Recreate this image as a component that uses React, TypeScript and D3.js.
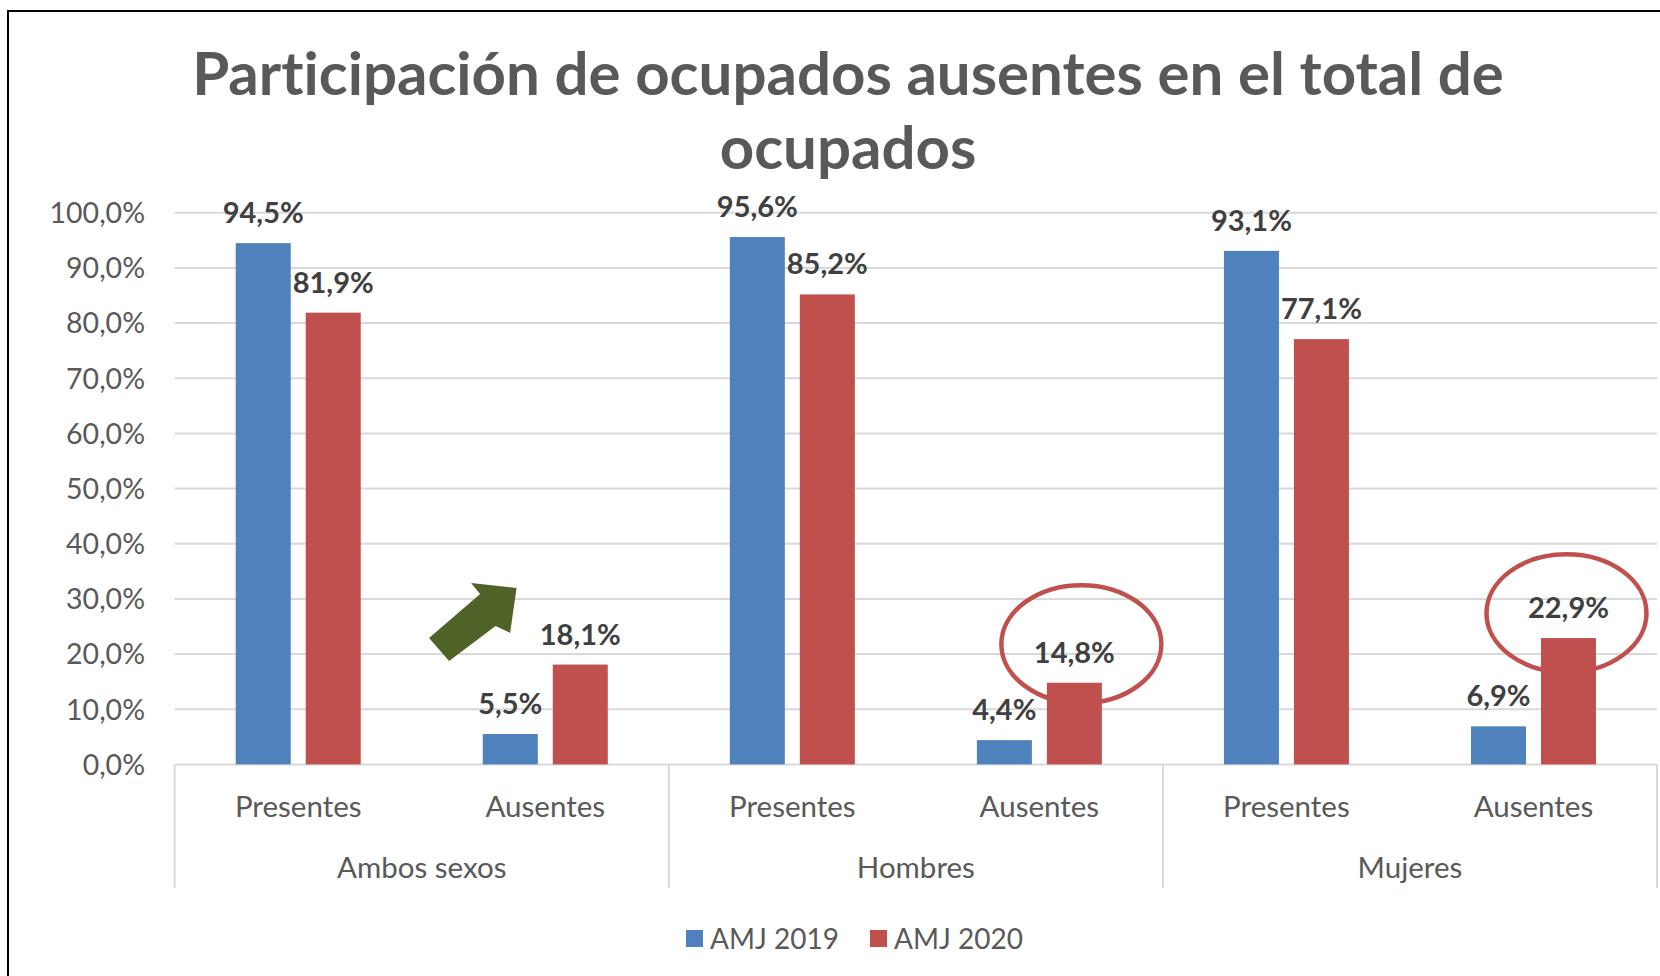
import React from 'react';
import * as d3 from 'd3';

const GROUPS = ['Ambos sexos', 'Hombres', 'Mujeres'];
const CATEGORIES = ['Presentes', 'Ausentes'];
const SERIES = ['AMJ 2019', 'AMJ 2020'];
const VALUES_2019 = [94.5, 5.5, 95.6, 4.4, 93.1, 6.9];
const VALUES_2020 = [81.9, 18.1, 85.2, 14.8, 77.1, 22.9];
const Y_TICKS = [0, 10, 20, 30, 40, 50, 60, 70, 80, 90, 100];
const COLORS = ['#4F81BD', '#C0504D'];
const TITLE_LINES = ['Participación de ocupados ausentes en el total de', 'ocupados'];
// highlighted (circled) bars: group index, category index, ellipse centre in value units, x offset px
const HIGHLIGHTS = [
  { g: 1, c: 1, cy: 21.8, dx: 7 },
  { g: 2, c: 1, cy: 27.4, dx: -2 },
];

const W = 1660;
const H = 976;
const FONT = 'Lato, "Open Sans", sans-serif';

const fmt = (v: number) => v.toFixed(1).replace('.', ',') + '%';

export default function App() {
  const left = 174.7;
  const right = 1657;
  const top = 212.8;
  const bottom = 764.4;

  const y = d3.scaleLinear().domain([0, 100]).range([bottom, top]);
  const keys = GROUPS.flatMap((g) => CATEGORIES.map((c) => g + '|' + c));
  const x0 = d3.scaleBand().domain(keys).range([left, right]).padding(0);
  const bw = x0.bandwidth();
  const x1 = d3
    .scaleBand()
    .domain(SERIES)
    .range([bw / 2 - 62.5, bw / 2 + 62.5])
    .paddingInner(0.214)
    .paddingOuter(0);
  const xg = d3.scaleBand().domain(GROUPS).range([left, right]).padding(0);

  const seriesVals = [VALUES_2019, VALUES_2020];

  const bars: any[] = [];
  keys.forEach((k, i) => {
    SERIES.forEach((s, si) => {
      const v = seriesVals[si][i];
      bars.push({ k, s, si, v, x: (x0(k) as number) + (x1(s) as number), w: x1.bandwidth() });
    });
  });

  // arrow annotation, anchored near the Ambos sexos / Ausentes bars
  const ak = GROUPS[0] + '|' + CATEGORIES[1];
  const tipX = (x0(ak) as number) + bw / 2 - 28.7;
  const tipY = y(32);
  const arrowRel = [
    [0, 0],
    [-6.5, 45],
    [-21, 38],
    [-67.5, 73],
    [-87.5, 50],
    [-36.5, 6],
    [-45.5, -5],
  ];
  const arrowPts = arrowRel.map(([dx, dy]) => `${tipX + dx},${tipY + dy}`).join(' ');

  return (
    <svg
      width={W}
      height={H}
      style={{
        position: 'absolute',
        left: 0,
        top: 0,
        background: '#fff',
        fontVariantLigatures: 'none',
        fontFeatureSettings: '"liga" 0, "clig" 0',
      }}
      fontFamily={FONT}
    >
      <rect x={0} y={0} width={W} height={H} fill="#fff" />
      <rect x={8} y={11} width={W + 50} height={H + 50} fill="#fff" stroke="#000" strokeWidth={2} />

      {/* title */}
      {TITLE_LINES.map((t, i) => (
        <text
          key={i}
          x={848}
          y={95 + i * 74}
          textAnchor="middle"
          fontSize={60}
          fontWeight={700}
          fill="#595959"
        >
          {t}
        </text>
      ))}

      {/* gridlines */}
      {Y_TICKS.map((t) => (
        <line key={t} x1={left} x2={right} y1={y(t)} y2={y(t)} stroke="#D9D9D9" strokeWidth={2} />
      ))}
      {/* y labels */}
      {Y_TICKS.map((t) => (
        <text
          key={'l' + t}
          x={145}
          y={y(t)}
          dy="0.36em"
          textAnchor="end"
          fontSize={28.5}
          fill="#595959"
        >
          {fmt(t)}
        </text>
      ))}

      {/* category axis separators */}
      {[...GROUPS.map((g) => xg(g) as number), right].map((xv, i) => (
        <line key={'s' + i} x1={xv} x2={xv} y1={bottom} y2={888} stroke="#D9D9D9" strokeWidth={2} />
      ))}

      {/* bars */}
      {bars.map((b, i) => (
        <rect
          key={i}
          x={b.x}
          y={y(b.v)}
          width={b.w}
          height={y(0) - y(b.v)}
          fill={COLORS[b.si]}
        />
      ))}

      {/* data labels */}
      {bars.map((b, i) => (
        <text
          key={'d' + i}
          x={b.x + b.w / 2}
          y={y(b.v) - 20}
          textAnchor="middle"
          fontSize={29}
          fontWeight={700}
          fill="#404040"
        >
          {fmt(b.v)}
        </text>
      ))}

      {/* sub-category labels */}
      {keys.map((k, i) => (
        <text
          key={'c' + i}
          x={(x0(k) as number) + bw / 2}
          y={806}
          dy="0.36em"
          textAnchor="middle"
          fontSize={29.5}
          fill="#595959"
        >
          {k.split('|')[1]}
        </text>
      ))}
      {/* group labels */}
      {GROUPS.map((g) => (
        <text
          key={g}
          x={(xg(g) as number) + xg.bandwidth() / 2}
          y={867}
          dy="0.36em"
          textAnchor="middle"
          fontSize={29.5}
          fill="#595959"
        >
          {g}
        </text>
      ))}

      {/* highlight ellipses */}
      {HIGHLIGHTS.map((h, i) => {
        const k = GROUPS[h.g] + '|' + CATEGORIES[h.c];
        const cx = (x0(k) as number) + (x1(SERIES[1]) as number) + x1.bandwidth() / 2 + h.dx;
        return (
          <ellipse
            key={'e' + i}
            cx={cx}
            cy={y(h.cy)}
            rx={80}
            ry={59}
            fill="none"
            stroke="#C0504D"
            strokeWidth={4.5}
          />
        );
      })}

      {/* arrow */}
      <polygon points={arrowPts} fill="#4F6228" />

      {/* legend */}
      {SERIES.map((s, i) => {
        const lx = i === 0 ? 686 : 870;
        return (
          <g key={s}>
            <rect x={lx} y={930} width={17} height={17} fill={COLORS[i]} />
            <text x={lx + 24} y={939} dy="0.36em" fontSize={28} fill="#595959">
              {s}
            </text>
          </g>
        );
      })}
    </svg>
  );
}
